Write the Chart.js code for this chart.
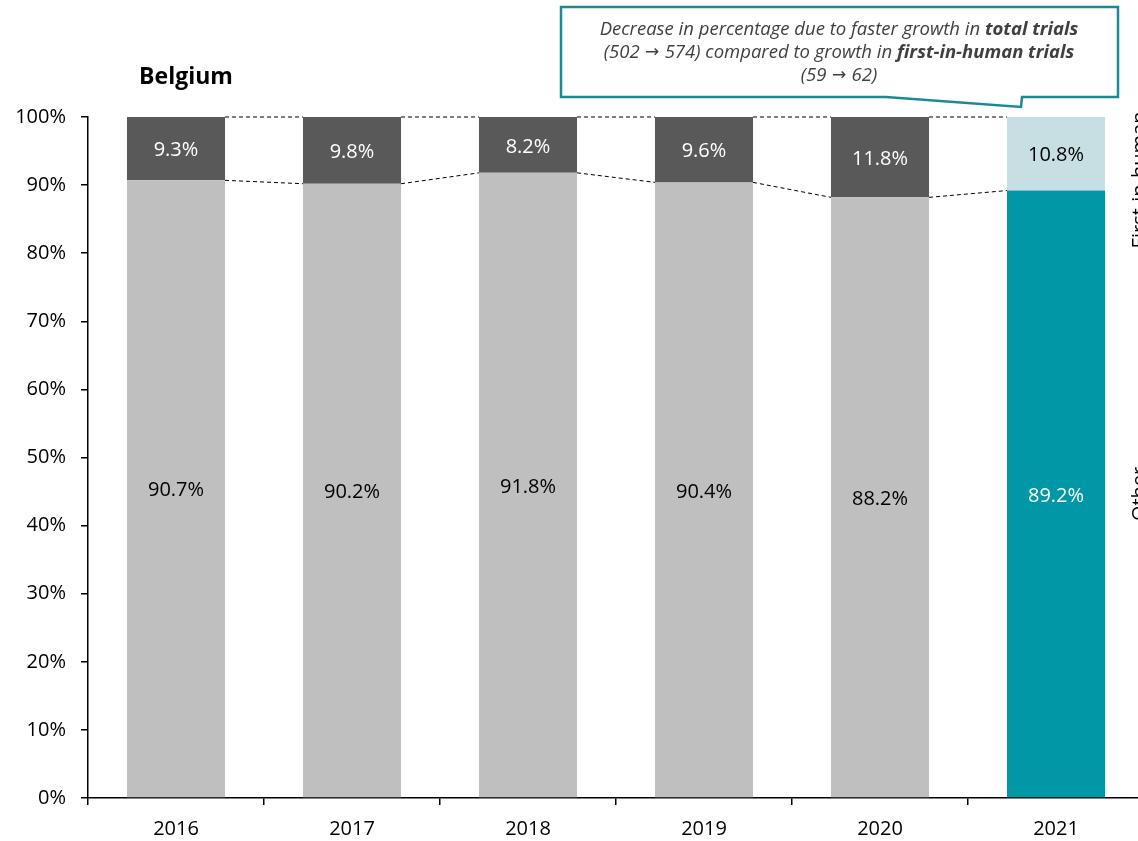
<!DOCTYPE html>
<html lang="en">
<head>
<meta charset="UTF-8">
<title>Belgium - first-in-human trials</title>
<script src="https://cdn.jsdelivr.net/npm/chart.js"></script>
<style>
    html, body { margin: 0; padding: 0; background: #fff; overflow: hidden; }
    .wrap { width: 1160px; height: 841px; position: relative; }
</style>
</head>
<body>
<div class="wrap"><canvas id="chart"></canvas></div>

<script>
// ======= Data =======
const years = ['2016', '2017', '2018', '2019', '2020', '2021'];
const otherShare = [90.7, 90.2, 91.8, 90.4, 88.2, 89.2];
const fihShare = [9.3, 9.8, 8.2, 9.6, 11.8, 10.8];
const yTicks = [0, 10, 20, 30, 40, 50, 60, 70, 80, 90, 100];

const FONT = '"Open Sans", "Noto Sans", sans-serif';

// last year is highlighted in teal
const otherColors = years.map((y, i) => i === years.length - 1 ? '#0097A7' : '#BFBFBF');
const fihColors = years.map((y, i) => i === years.length - 1 ? '#C7DFE3' : '#595959');
const otherLabelColors = years.map((y, i) => i === years.length - 1 ? '#ffffff' : '#000000');
const fihLabelColors = years.map((y, i) => i === years.length - 1 ? '#000000' : '#ffffff');

// ======= Plugins =======
const connectors = {
    id: 'connectors',
    afterDatasetsDraw(chart) {
        const ctx = chart.ctx;
        const low = chart.getDatasetMeta(0).data;
        const top = chart.getDatasetMeta(1).data;
        ctx.save();
        ctx.strokeStyle = '#000';
        ctx.lineWidth = 1;
        ctx.setLineDash([4, 3]);
        for (let i = 0; i < low.length - 1; i++) {
            const a = low[i], b = low[i + 1];
            const x1 = a.x + a.width / 2, x2 = b.x - b.width / 2;
            ctx.beginPath();
            ctx.moveTo(x1, a.y); ctx.lineTo(x2, b.y);
            ctx.moveTo(x1, top[i].y); ctx.lineTo(x2, top[i + 1].y);
            ctx.stroke();
        }
        ctx.restore();
    }
};

const valueLabels = {
    id: 'valueLabels',
    afterDatasetsDraw(chart) {
        const ctx = chart.ctx;
        ctx.save();
        ctx.font = '20px ' + FONT;
        ctx.textAlign = 'center';
        ctx.textBaseline = 'middle';
        [[0, otherLabelColors], [1, fihLabelColors]].forEach(([d, cols]) => {
            const ds = chart.data.datasets[d];
            chart.getDatasetMeta(d).data.forEach((bar, i) => {
                ctx.fillStyle = cols[i];
                ctx.fillText(ds.data[i].toFixed(1) + '%', bar.x, (bar.y + bar.base) / 2 + 2);
            });
        });
        ctx.restore();
    }
};

const decorations = {
    id: 'decorations',
    afterDraw(chart) {
        const ctx = chart.ctx;
        ctx.save();

        // title
        ctx.fillStyle = '#000';
        ctx.font = 'bold 23px ' + FONT;
        ctx.textAlign = 'center';
        ctx.textBaseline = 'middle';
        ctx.fillText('Belgium', 186, 77);

        // rotated series names on the right
        ctx.font = '20px ' + FONT;
        const r = chart.getDatasetMeta(0).data[years.length - 1];
        [['First-in-human', 180], ['Other', (r.y + r.base) / 2]].forEach(([txt, y]) => {
            ctx.save();
            ctx.translate(1140, y);
            ctx.rotate(-Math.PI / 2);
            ctx.fillText(txt, 0, 0);
            ctx.restore();
        });

        // callout box
        ctx.beginPath();
        ctx.moveTo(561, 7);
        ctx.lineTo(1118, 7);
        ctx.lineTo(1118, 97);
        ctx.lineTo(1022, 97);
        ctx.lineTo(1021, 107);
        ctx.lineTo(886, 97);
        ctx.lineTo(561, 97);
        ctx.closePath();
        ctx.fillStyle = '#fff';
        ctx.fill();
        ctx.strokeStyle = '#1B8A96';
        ctx.lineWidth = 2.5;
        ctx.stroke();

        const ARROW = ' \u2192 ';
        const lines = [
            [['Decrease in percentage due to faster growth in ', 'n'], ['total trials', 'b']],
            [['(502', 'n'], [ARROW, 'a'], ['574) compared to growth in ', 'n'], ['first-in-human trials', 'b']],
            [['(59', 'n'], [ARROW, 'a'], ['62)', 'n']]
        ];
        const fontFor = { n: 'italic 18.5px ' + FONT, b: 'italic bold 18.5px ' + FONT, a: '17px "DejaVu Sans", sans-serif' };
        const lineY = [30, 53, 76];
        ctx.fillStyle = '#404040';
        ctx.textAlign = 'left';
        lines.forEach((parts, li) => {
            let w = 0;
            parts.forEach(p => { ctx.font = fontFor[p[1]]; w += ctx.measureText(p[0]).width; });
            let x = 839 - w / 2;
            parts.forEach(p => {
                ctx.font = fontFor[p[1]];
                ctx.fillText(p[0], x, lineY[li]);
                x += ctx.measureText(p[0]).width;
            });
        });
        ctx.restore();
    }
};

// ======= Chart =======
new Chart(document.getElementById('chart'), {
    type: 'bar',
    data: {
        labels: years,
        datasets: [
            { label: 'Other', data: otherShare, backgroundColor: otherColors },
            { label: 'First-in-human', data: fihShare, backgroundColor: fihColors }
        ]
    },
    options: {
        responsive: true,
        maintainAspectRatio: false,
        animation: false,
        events: [],
        layout: { padding: { top: 117, right: 16, left: 0, bottom: 0 } },
        datasets: { bar: { categoryPercentage: 1, barPercentage: 0.557 } },
        plugins: { legend: { display: false }, tooltip: { enabled: false } },
        scales: {
            x: {
                stacked: true,
                grid: { offset: true, drawOnChartArea: false, drawTicks: true, tickLength: 7, color: '#000', lineWidth: 1.5 },
                border: { color: '#000', width: 1.5 },
                ticks: { color: '#000', font: { family: FONT, size: 20 }, padding: 12 },
                afterFit(scale) { scale.height = 43; }
            },
            y: {
                stacked: true,
                min: 0,
                max: 100,
                afterBuildTicks(scale) { scale.ticks = yTicks.map(v => ({ value: v })); },
                grid: { drawOnChartArea: false, drawTicks: true, tickLength: 7, color: '#000', lineWidth: 1.5 },
                border: { color: '#000', width: 1.5 },
                ticks: { color: '#000', font: { family: FONT, size: 20 }, padding: 15, callback: v => v + '%' },
                afterFit(scale) { scale.width = 88; }
            }
        }
    },
    plugins: [connectors, valueLabels, decorations]
});
</script>
</body>
</html>
